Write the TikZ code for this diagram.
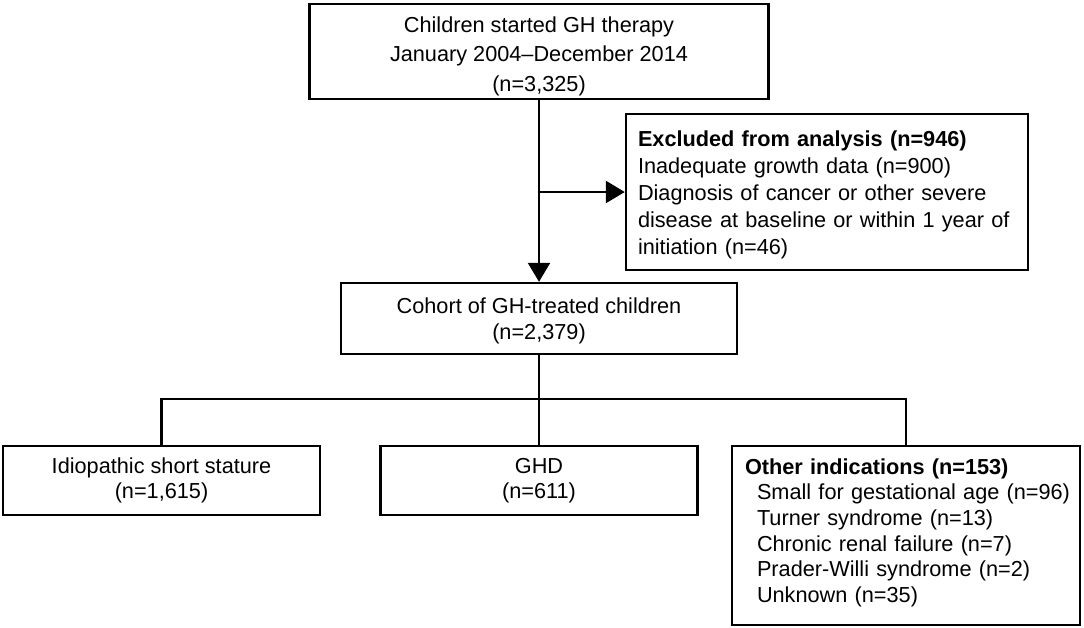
\documentclass[tikz,border=0pt]{standalone}
\usepackage{fontspec}
\setmainfont{Liberation Sans}
\usetikzlibrary{arrows.meta}
\begin{document}
\begin{tikzpicture}[x=1pt,y=-1pt,
  box/.style={draw, line width=2.4pt, inner sep=0pt, rectangle},
  link/.style={line width=2.4pt},
  arr/.style={link, -{Triangle[length=19pt,width=22pt]}},
  every node/.append style={font=\fontsize{21.7}{26}\selectfont}]
\useasboundingbox (0,0) rectangle (1084,627);

\node[box, minimum width=459pt, minimum height=95pt, align=center,
  font=\fontsize{21.7}{29.5}\selectfont] (top) at (539,51.5)
  {\rule{0pt}{28pt}Children started GH therapy\\January 2004–December 2014\\(n=3,325)\rule[-8pt]{0pt}{8pt}};

\node[box, minimum width=402pt, minimum height=156pt, text width=378pt, align=left,
  inner xsep=12pt, font=\fontsize{21.7}{26.9}\selectfont] (excl) at (827,192)
  {\rule{0pt}{33pt}\mbox{\textbf{Excluded from analysis (n=946)}}\\\mbox{Inadequate growth data (n=900)}\\\mbox{Diagnosis of cancer or other severe}\\\mbox{disease at baseline or within 1 year of}\\initiation (n=46)\rule[-15.5pt]{0pt}{15.5pt}};

\node[box, minimum width=396pt, minimum height=71pt, align=center,
  font=\fontsize{21.7}{26}\selectfont] (coh) at (539,318.5)
  {\rule{0pt}{30pt}Cohort of GH-treated children\\(n=2,379)\rule[-15pt]{0pt}{15pt}};

\node[box, minimum width=317pt, minimum height=69pt, align=center,
  font=\fontsize{21.7}{25}\selectfont] (iss) at (161.5,480.5)
  {\rule{0pt}{27pt}Idiopathic short stature\\(n=1,615)\rule[-17pt]{0pt}{17pt}};

\node[box, minimum width=317pt, minimum height=69pt, align=center,
  font=\fontsize{21.7}{25}\selectfont] (ghd) at (539,480.5)
  {\rule{0pt}{27pt}GHD\\(n=611)\rule[-17pt]{0pt}{17pt}};

\node[box, minimum width=348pt, minimum height=179pt, text width=322pt, align=left,
  inner xsep=13pt, font=\fontsize{21.7}{25.7}\selectfont] (oth) at (906,535.5)
  {\rule{0pt}{28pt}\mbox{\textbf{Other indications (n=153)}}\\\hspace*{12pt}\mbox{Small for gestational age (n=96)}\\\hspace*{12pt}\mbox{Turner syndrome (n=13)}\\\hspace*{12pt}\mbox{Chronic renal failure (n=7)}\\\hspace*{12pt}\mbox{Prader-Willi syndrome (n=2)}\\\hspace*{12pt}\mbox{Unknown (n=35)}\rule[-22.5pt]{0pt}{22.5pt}};

\coordinate (j1) at (top.south |- excl.west);
\coordinate (bus) at (539,399);
\draw[arr] (top.south) -- (coh.north);
\draw[arr] (j1) -- (excl.west);
\draw[link] (coh.south) -- (ghd.north);
\draw[link] (iss.north) |- (bus) -| (oth.north);
\end{tikzpicture}
\end{document}
